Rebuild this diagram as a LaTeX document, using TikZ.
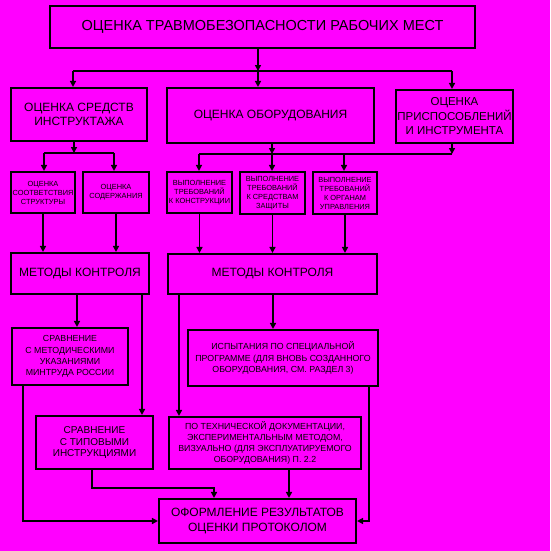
\documentclass[tikz,border=0pt]{standalone}
\usepackage{fontspec}
\setmainfont{Liberation Sans}
\usetikzlibrary{arrows.meta}
\definecolor{bg}{RGB}{255,0,255}
\begin{document}
\begin{tikzpicture}[x=1pt,y=-1pt,
  box/.style={draw=black,line width=2.1pt,align=center,inner sep=0pt},
  arr/.style={line width=1.9pt,-{Triangle[length=6pt,width=6pt]}},
  ln/.style={line width=1.9pt},
  fA/.style={font=\fontsize{14.5}{17}\selectfont},
  fB/.style={font=\fontsize{12}{14.5}\selectfont},
  fC/.style={font=\fontsize{10}{11.8}\selectfont},
  fD/.style={font=\fontsize{8.8}{11.2}\selectfont},
  fE/.style={font=\fontsize{7.4}{9}\selectfont}]
\fill[bg] (0,0) rectangle (550,551);
\useasboundingbox (0,0) rectangle (550,551);
% boxes
\node[box,fA,minimum width=425,minimum height=42] (top) at (262.5,27) {ОЦЕНКА ТРАВМОБЕЗОПАСНОСТИ РАБОЧИХ МЕСТ};
\node[box,fB,minimum width=136,minimum height=53] (instr) at (79,114.5) {ОЦЕНКА СРЕДСТВ\\ИНСТРУКТАЖА};
\node[box,fB,minimum width=207,minimum height=55] (equip) at (270.5,115.5) {ОЦЕНКА ОБОРУДОВАНИЯ};
\node[box,minimum width=117,minimum height=53,font=\fontsize{11.5}{14.5}\selectfont] (tools) at (454.5,116.5) {ОЦЕНКА\\ПРИСПОСОБЛЕНИЙ\\И ИНСТРУМЕНТА};
\node[box,fE,minimum width=64,minimum height=41] (struct) at (43,192.5) {ОЦЕНКА\\СООТВЕТСТВИЯ\\СТРУКТУРЫ};
\node[box,fE,minimum width=66,minimum height=41] (content) at (116,192.5) {ОЦЕНКА\\СОДЕРЖАНИЯ};
\node[box,fE,minimum width=65,minimum height=41] (constr) at (199.5,192.5) {ВЫПОЛНЕНИЕ\\ТРЕБОВАНИЙ\\К КОНСТРУКЦИИ};
\node[box,fE,minimum width=65,minimum height=42] (protect) at (272.5,193) {ВЫПОЛНЕНИЕ\\ТРЕБОВАНИЙ\\К СРЕДСТВАМ\\ЗАЩИТЫ};
\node[box,fE,minimum width=64,minimum height=42] (controls) at (345,193) {ВЫПОЛНЕНИЕ\\ТРЕБОВАНИЙ\\К ОРГАНАМ\\УПРАВЛЕНИЯ};
\node[box,fB,minimum width=138,minimum height=41] (meth1) at (80,273.5) {МЕТОДЫ КОНТРОЛЯ};
\node[box,fB,minimum width=209,minimum height=40] (meth2) at (272.5,274) {МЕТОДЫ КОНТРОЛЯ};
\node[box,fD,minimum width=116,minimum height=57] (mintrud) at (70,356.5) {СРАВНЕНИЕ\\С МЕТОДИЧЕСКИМИ\\УКАЗАНИЯМИ\\МИНТРУДА РОССИИ};
\node[box,fD,minimum width=190,minimum height=56] (tests) at (283,358) {ИСПЫТАНИЯ ПО СПЕЦИАЛЬНОЙ\\ПРОГРАММЕ (ДЛЯ ВНОВЬ СОЗДАННОГО\\ОБОРУДОВАНИЯ, СМ. РАЗДЕЛ 3)};
\node[box,fC,minimum width=117,minimum height=53] (typical) at (94.5,442.5) {СРАВНЕНИЕ\\С ТИПОВЫМИ\\ИНСТРУКЦИЯМИ};
\node[box,fD,minimum width=192,minimum height=52] (techdoc) at (265,443) {ПО ТЕХНИЧЕСКОЙ ДОКУМЕНТАЦИИ,\\ЭКСПЕРИМЕНТАЛЬНЫМ МЕТОДОМ,\\ВИЗУАЛЬНО (ДЛЯ ЭКСПЛУАТИРУЕМОГО\\ОБОРУДОВАНИЯ) П. 2.2};
\node[box,fB,minimum width=197,minimum height=44] (final) at (257.5,521) {ОФОРМЛЕНИЕ РЕЗУЛЬТАТОВ\\ОЦЕНКИ ПРОТОКОЛОМ};
% bus 1
\coordinate (b1) at (258,71);
\coordinate (b1l) at (73,71);
\coordinate (b1r) at (452,71);
\draw[arr] (top.south -| b1) -- (b1);
\draw[ln] (b1l) -- (b1r);
\draw[arr] (b1l) -- (b1l |- instr.north);
\draw[arr] (b1) -- (b1 |- equip.north);
\draw[arr] (b1r) -- (b1r |- tools.north);
% bus 2
\coordinate (b2) at (74,153);
\coordinate (b2l) at (44,153);
\coordinate (b2r) at (114,153);
\draw[arr] (instr.south -| b2) -- (b2);
\draw[ln] (b2l) -- (b2r);
\draw[arr] (b2l) -- (b2l |- struct.north);
\draw[arr] (b2r) -- (b2r |- content.north);
% bus 3
\coordinate (b3) at (272,154);
\coordinate (b3l) at (199,154);
\coordinate (b3m) at (344,154);
\coordinate (b3r) at (452,154);
\draw[arr] (equip.south -| b3) -- (b3);
\draw[arr] (tools.south -| b3r) -- (b3r);
\draw[ln] (b3l) -- (b3r);
\draw[arr] (b3l) -- (b3l |- constr.north);
\draw[arr] (b3) -- (b3 |- protect.north);
\draw[arr] (b3m) -- (b3m |- controls.north);
% to methods
\draw[arr] (struct.south) -- (struct.south |- meth1.north);
\draw[arr] (content.south) -- (content.south |- meth1.north);
\draw[arr] (constr.south) -- (constr.south |- meth2.north);
\draw[arr] (protect.south) -- (protect.south |- meth2.north);
\draw[arr] (controls.south) -- (controls.south |- meth2.north);
% from methods
\coordinate (xa) at (77,0);
\coordinate (xb) at (142,0);
\coordinate (xc) at (179,0);
\coordinate (xd) at (273,0);
\draw[arr] (meth1.south -| xa) -- (mintrud.north -| xa);
\draw[arr] (meth1.south -| xb) -- (typical.north -| xb);
\draw[arr] (meth2.south -| xc) -- (techdoc.north -| xc);
\draw[arr] (meth2.south -| xd) -- (tests.north -| xd);
% to final
\coordinate (xe) at (23,0);
\coordinate (xf) at (369,0);
\coordinate (j1) at (92,488);
\coordinate (j2) at (214,488);
\coordinate (xg) at (289,0);
\draw[arr] (mintrud.south -| xe) |- (final.west);
\draw[arr] (tests.south -| xf) |- (final.east);
\draw[arr] (typical.south -| j1) -- (j1) -- (j2) -- (final.north -| j2);
\draw[arr] (techdoc.south -| xg) -- (final.north -| xg);
\end{tikzpicture}
\end{document}
